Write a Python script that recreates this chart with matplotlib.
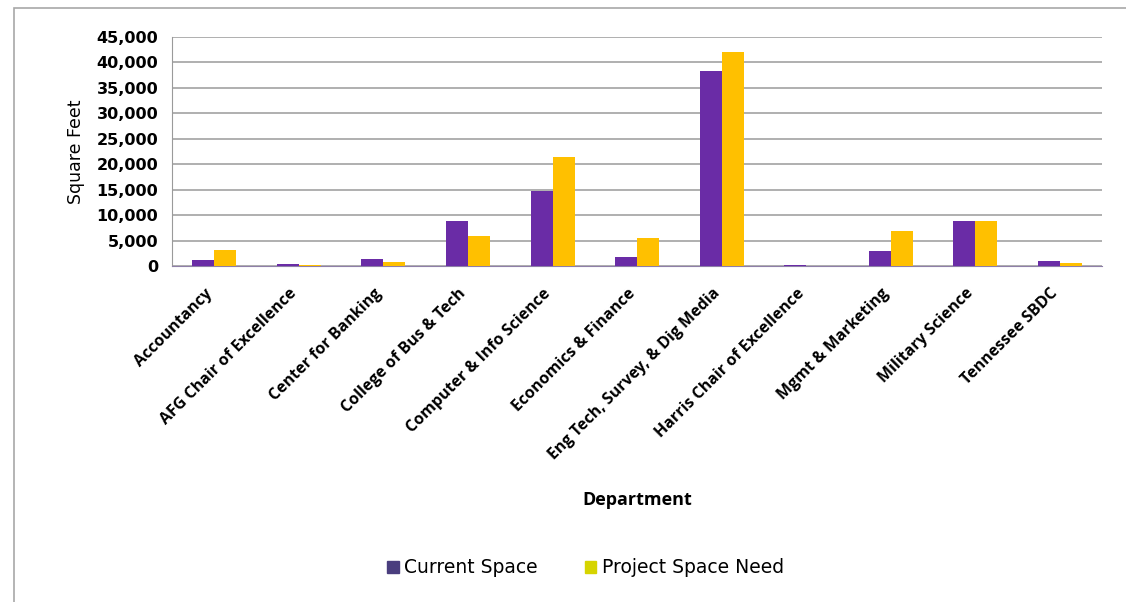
import matplotlib
matplotlib.use("Agg")
import matplotlib.pyplot as plt
import matplotlib.transforms as mtransforms
import numpy as np
from matplotlib.patches import Patch, Rectangle
from matplotlib.ticker import FuncFormatter

departments = [
    "Accountancy", "AFG Chair of Excellence", "Center for Banking",
    "College of Bus & Tech", "Computer & Info Science", "Economics & Finance",
    "Eng Tech, Survey, & Dig Media", "Harris Chair of Excellence",
    "Mgmt & Marketing", "Military Science", "Tennessee SBDC",
]
current_space = [1100, 500, 1300, 8800, 14800, 1800, 38300, 200, 3000, 8800, 1000]
project_need = [3100, 200, 800, 5900, 21400, 5500, 42100, 0, 6900, 8800, 700]
yticks = list(range(0, 45001, 5000))

PURPLE, GOLD = "#6A2CA6", "#FFC000"
LEG_PURPLE, LEG_GOLD = "#4A3E7E", "#D6D400"
SANS = ["DejaVu Sans"]
LABEL = ["Open Sans", "DejaVu Sans"]

fig = plt.figure(figsize=(11.26, 6.02), dpi=100)
ax = fig.add_axes([0.1528, 0.558, 0.826, 0.381])

# outer chart frame (runs off the right and bottom edges)
fig.patches.append(Rectangle((0.012, -0.02), 1.05, 1.007, transform=fig.transFigure,
                             fill=False, edgecolor="#A8A8A8", lw=1.2))

x = np.arange(len(departments))
w = 0.26
ax.bar(x - w / 2, current_space, w, color=PURPLE, zorder=3)
ax.bar(x + w / 2, project_need, w, color=GOLD, zorder=3)

ax.set_xlim(-0.5, len(departments) - 0.5)
ax.set_ylim(0, 45000)
ax.set_yticks(yticks)
ax.yaxis.set_major_formatter(FuncFormatter(lambda v, p: f"{int(v):,}"))
ax.grid(axis="y", color="#9A9A9A", lw=1.1, zorder=0)
for s in ("top", "right"):
    ax.spines[s].set_visible(False)
ax.spines["left"].set_color("#9A9A9A")
ax.spines["bottom"].set_color("#8E7FA8")
ax.tick_params(axis="y", length=0, pad=10)
ax.tick_params(axis="x", length=0, pad=14)
for lab in ax.get_yticklabels():
    lab.set_fontweight("bold")
    lab.set_family(SANS)
    lab.set_fontsize(11.5)

ax.set_xticks(x)
ax.set_xticklabels(departments, rotation=45, ha="right", va="top",
                   rotation_mode="anchor", fontweight="bold", fontsize=11.5,
                   family=LABEL)
shift = mtransforms.ScaledTranslation(-7 / 72, 0, fig.dpi_scale_trans)
for lab in ax.get_xticklabels():
    lab.set_transform(lab.get_transform() + shift)

ax.set_ylabel("Square Feet", fontsize=12.5, family=SANS, labelpad=8)
ax.set_xlabel("Department", fontsize=13, fontweight="bold", family=LABEL,
              labelpad=20)

handles = [Patch(color=LEG_PURPLE, label="Current Space"),
           Patch(color=LEG_GOLD, label="Project Space Need")]
fig.legend(handles=handles, loc="center", bbox_to_anchor=(0.52, 0.057), ncol=2,
           frameon=False, prop={"family": SANS, "size": 13.5},
           handlelength=0.6, handleheight=0.6, handletextpad=0.3,
           columnspacing=2.5)

fig.savefig("out.png", dpi=100)
